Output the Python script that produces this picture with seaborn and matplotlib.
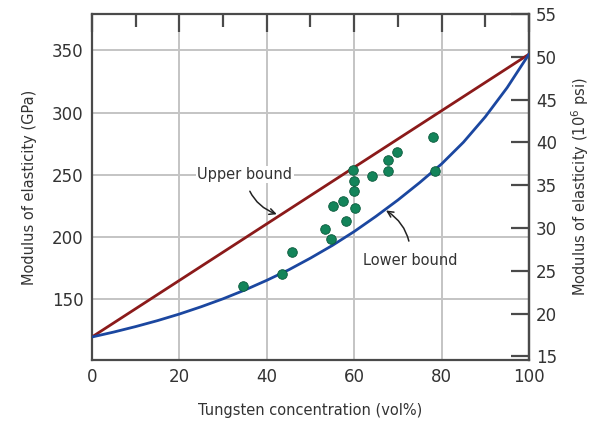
import numpy as np
import pandas as pd
import matplotlib
matplotlib.use("Agg")
import matplotlib.pyplot as plt
import seaborn as sns

# ---- data ----
# measured modulus of Cu-W composites
w_vol = [34.6, 43.4, 45.7, 53.3, 54.6, 55.2, 57.5, 58.1, 59.7, 60.0,
         60.0, 60.2, 64.0, 67.7, 67.8, 69.7, 78.0, 78.5]
e_gpa = [160.4, 169.9, 187.8, 205.8, 198.0, 224.5, 228.8, 212.7, 253.5, 244.9,
         236.9, 222.7, 248.7, 252.7, 261.5, 268.2, 280.3, 252.9]

# upper bound (straight line between pure Cu and pure W)
upper_x = [0, 100]
upper_y = [119, 347]

# lower bound curve, read point by point
lower_x = [0, 5, 10, 15, 20, 25, 30, 35, 40, 45, 50,
           55, 60, 65, 70, 75, 80, 85, 90, 95, 100]
lower_y = [119, 123, 127.4, 132.2, 137.5, 143.4, 149.8, 156.9, 164.7, 173.1, 182.6,
           192.8, 204, 216.3, 229.4, 243.5, 258.5, 276, 296.5, 320, 347]

GPA_TO_MSI = 0.145

# ---- figure ----
sns.set_style("white")
plt.rcParams['font.family'] = ['DejaVu Sans']

fig = plt.figure(figsize=(5.93, 4.21), dpi=100)
ax = fig.add_axes([0.155, 0.145, 0.737, 0.822])

grid_c = '#c4c4c4'
spine_c = '#4a4a4a'

for gx in [20, 40, 60, 80]:
    ax.axvline(gx, color=grid_c, lw=1.4, zorder=0)
for gy in [150, 200, 250, 300, 350]:
    ax.axhline(gy, color=grid_c, lw=1.4, zorder=0)

sns.lineplot(x=upper_x, y=upper_y, ax=ax, color='#8b1a1a', lw=2.0, zorder=3)
sns.lineplot(x=lower_x, y=lower_y, ax=ax, color='#1b47a0', lw=2.0, zorder=3)
sns.scatterplot(x=w_vol, y=e_gpa, ax=ax, color='#13845a', edgecolor='#0b5a3c',
                linewidth=0.6, s=48, zorder=4)

ax.set_xlim(0, 100)
ax.set_ylim(100.5, 379.5)

ax.set_xticks([0, 20, 40, 60, 80, 100])
ax.set_xticks([10, 30, 50, 70, 90], minor=True)
ax.set_yticks([150, 200, 250, 300, 350])

ax.tick_params(axis='x', which='major', direction='in', length=13, width=1.6,
               color=spine_c, top=True, labelsize=12, pad=6, labelcolor='#333333')
ax.tick_params(axis='x', which='minor', direction='in', length=9, width=1.6,
               color=spine_c, top=True)
ax.tick_params(axis='y', which='major', direction='in', length=14, width=1.6,
               color=spine_c, labelsize=12, pad=6, labelcolor='#333333')

for sp in ax.spines.values():
    sp.set_color(spine_c)
    sp.set_linewidth(1.6)

ax.set_xlabel('Tungsten concentration (vol%)', fontsize=10.5, labelpad=12, color='#333333')
ax.set_ylabel('Modulus of elasticity (GPa)', fontsize=10.5, labelpad=11, color='#333333')

sec = ax.secondary_yaxis('right', functions=(lambda g: g * GPA_TO_MSI,
                                             lambda m: m / GPA_TO_MSI))
sec.set_yticks([15, 20, 25, 30, 35, 40, 45, 50, 55])
sec.tick_params(axis='y', direction='in', length=13, width=1.6, color=spine_c,
                labelsize=12, pad=5, labelcolor='#333333')
sec.spines['right'].set_color(spine_c)
sec.spines['right'].set_linewidth(1.6)
sec.set_ylabel('Modulus of elasticity (10$^6$ psi)', fontsize=10.5, labelpad=9,
               color='#333333')

# annotations
ax.annotate('Upper bound', xy=(42.3, 218), xytext=(35.0, 250),
            ha='center', va='center', fontsize=10.5, color='#333333',
            bbox=dict(boxstyle='square,pad=0.1', fc='white', ec='none'),
            arrowprops=dict(arrowstyle='->', color='#222222', lw=1.1,
                            connectionstyle='arc3,rad=0.3',
                            shrinkA=6, shrinkB=0),
            zorder=5)
ax.annotate('Lower bound', xy=(67.3, 221), xytext=(72.8, 181),
            ha='center', va='center', fontsize=10.5, color='#333333',
            arrowprops=dict(arrowstyle='->', color='#222222', lw=1.1,
                            connectionstyle='arc3,rad=0.3',
                            shrinkA=6, shrinkB=0),
            zorder=5)

plt.savefig('out.png', dpi=100)
